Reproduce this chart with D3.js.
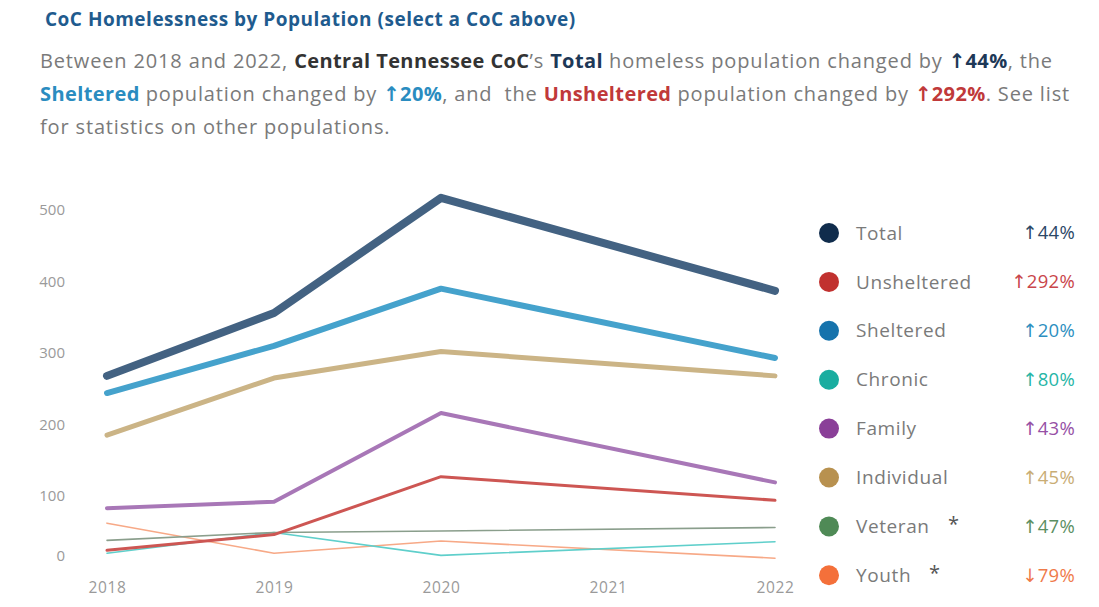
<!DOCTYPE html>
<html>
<head>
<meta charset="utf-8">
<script src="https://cdn.jsdelivr.net/npm/d3@7"></script>
<style>
  body { margin: 0; background: #fff; font-family: "Open Sans", sans-serif; }
  svg { display: block; }
  .arrow { font-family: "DejaVu Sans", sans-serif; font-weight: 700; }
</style>
</head>
<body>
<svg id="chart" width="1099" height="607"></svg>
<script>
// data (no 2021 count, lines run 2020 -> 2022)
var years = [2018, 2019, 2020, 2022],
    axisYears = [2018, 2019, 2020, 2021, 2022],
    yTicks = [0, 100, 200, 300, 400, 500],
    names = ["Total", "Unsheltered", "Sheltered", "Chronic", "Family", "Individual", "Veteran", "Youth"],
    total = [268, 356, 517, 387],
    unsheltered = [24, 46, 127, 94],
    sheltered = [244, 310, 390, 293],
    chronic = [20, 49, 17, 36],
    family = [83, 92, 216, 119],
    individual = [185, 265, 302, 268],
    veteran = [38, 49, 51, 56],
    youth = [62, 20, 37, 13],
    lineColors = ["#436282", "#cd5653", "#45a2cc", "#5fcfcb", "#a877b7", "#cbb486", "#8a9e8c", "#f7a987"],
    dotColors = ["#102c4c", "#c1312f", "#1673ac", "#19ada0", "#8a3f98", "#b8914f", "#4f8a56", "#f4703a"],
    pctColors = ["#2b4766", "#c9454a", "#2d8fc0", "#27b5a6", "#9650a5", "#c9ad75", "#5b8f62", "#ef7a4a"],
    lineWidths = [8, 3, 6, 1.6, 4, 5, 1.6, 1.6],
    starred = ["Veteran", "Youth"];

var seriesValues = [total, unsheltered, sheltered, chronic, family, individual, veteran, youth];

var svg = d3.select("#chart");

var x = d3.scaleLinear().domain([2018, 2022]).range([107, 775]),
    y = d3.scaleLinear().domain([0, 500]).range([567.5, 210]);

var change = function (v) {
    return Math.round((v[v.length - 1] / v[0] - 1) * 100);
};
var arrow = function (v) { return change(v) >= 0 ? "\u2191" : "\u2193"; };
var pctNum = function (v) { return Math.abs(change(v)) + "%"; };

// title + sentence
svg.append("text")
    .attr("x", 45).attr("y", 26)
    .attr("font-size", 19).attr("font-weight", 700)
    .attr("letter-spacing", 0.5)
    .attr("fill", "#1f5b8e")
    .text("CoC Homelessness by Population (select a CoC above)");

// [text, colour, isArrow]
var para = [
    [["Between 2018 and 2022, ", null], ["Central Tennessee CoC", "#333"], ["\u2019s ", null], ["Total", "#1d3857"],
     [" homeless population changed by ", null], [arrow(total), "#1d3857", true], [pctNum(total), "#1d3857"], [", the", null]],
    [["Sheltered", "#2a8cc0"], [" population changed by ", null], [arrow(sheltered), "#2a8cc0", true], [pctNum(sheltered), "#2a8cc0"],
     [", and  the ", null], ["Unsheltered", "#c0393a"], [" population changed by ", null],
     [arrow(unsheltered), "#c0393a", true], [pctNum(unsheltered), "#c0393a"], [". See list", null]],
    [["for statistics on other populations.", null]]
];

para.forEach(function (line, i) {
    var t = svg.append("text")
        .attr("x", 40).attr("y", 68 + i * 33)
        .attr("font-size", 20).attr("letter-spacing", 0.85)
        .attr("xml:space", "preserve")
        .attr("fill", "#7a7a7a");
    line.forEach(function (p) {
        var s = t.append("tspan").text(p[0]);
        if (p[1]) {
            s.attr("fill", p[1]).attr("font-weight", 700).attr("letter-spacing", 0.4);
        }
        if (p[2]) {
            s.attr("class", "arrow").attr("letter-spacing", 0);
        }
    });
});

// axes
var gy = svg.append("g")
    .attr("transform", "translate(65,0)")
    .call(d3.axisLeft(y).tickValues(yTicks).tickSize(0).tickPadding(0));
gy.select(".domain").remove();
gy.selectAll("text")
    .attr("font-family", "Open Sans, sans-serif")
    .attr("font-size", 15).attr("fill", "#9a9a9a")
    .attr("dy", function (d) { return d === 0 ? "-0.45em" : "0.32em"; });

var gx = svg.append("g")
    .attr("transform", "translate(0,582)")
    .call(d3.axisBottom(x).tickValues(axisYears).tickFormat(d3.format("d")).tickSize(0).tickPadding(0));
gx.select(".domain").remove();
gx.selectAll("text")
    .attr("font-family", "Open Sans, sans-serif")
    .attr("font-size", 15.5).attr("letter-spacing", 0.6).attr("fill", "#9a9a9a");

// lines, thinnest first so Total sits on top
var order = [7, 3, 6, 1, 4, 5, 2, 0];
var line = d3.line()
    .x(function (d, i) { return x(years[i]); })
    .y(function (d) { return y(d); });

svg.append("g").selectAll("path")
    .data(order)
    .join("path")
    .attr("d", function (k) { return line(seriesValues[k]); })
    .attr("fill", "none")
    .attr("stroke", function (k) { return lineColors[k]; })
    .attr("stroke-width", function (k) { return lineWidths[k]; })
    .attr("stroke-linejoin", "round")
    .attr("stroke-linecap", "round");

// legend
var legend = svg.append("g").selectAll("g")
    .data(names)
    .join("g")
    .attr("transform", function (d, i) { return "translate(0," + (233 + i * 48.9) + ")"; });

legend.append("circle")
    .attr("cx", 829).attr("r", 10)
    .attr("fill", function (d, i) { return dotColors[i]; });

legend.append("text")
    .attr("x", 856).attr("dy", "0.35em")
    .attr("font-size", 19).attr("letter-spacing", 0.6).attr("fill", "#7a7a7a")
    .text(function (d) { return d; });

legend.filter(function (d) { return starred.indexOf(d) >= 0; })
    .append("text")
    .attr("x", function (d) { return d === "Veteran" ? 948 : 929; })
    .attr("y", -2).attr("dy", "0.35em")
    .attr("font-size", 20).attr("fill", "#555")
    .text("*");

var pctText = legend.append("text")
    .attr("x", 1075).attr("dy", "0.35em")
    .attr("text-anchor", "end")
    .attr("font-size", 18.5)
    .attr("fill", function (d, i) { return pctColors[i]; });
pctText.append("tspan").attr("class", "arrow").attr("font-weight", 400)
    .style("font-weight", 400)
    .text(function (d, i) { return arrow(seriesValues[i]); });
pctText.append("tspan").attr("letter-spacing", 0.3)
    .text(function (d, i) { return pctNum(seriesValues[i]); });
</script>
</body>
</html>
